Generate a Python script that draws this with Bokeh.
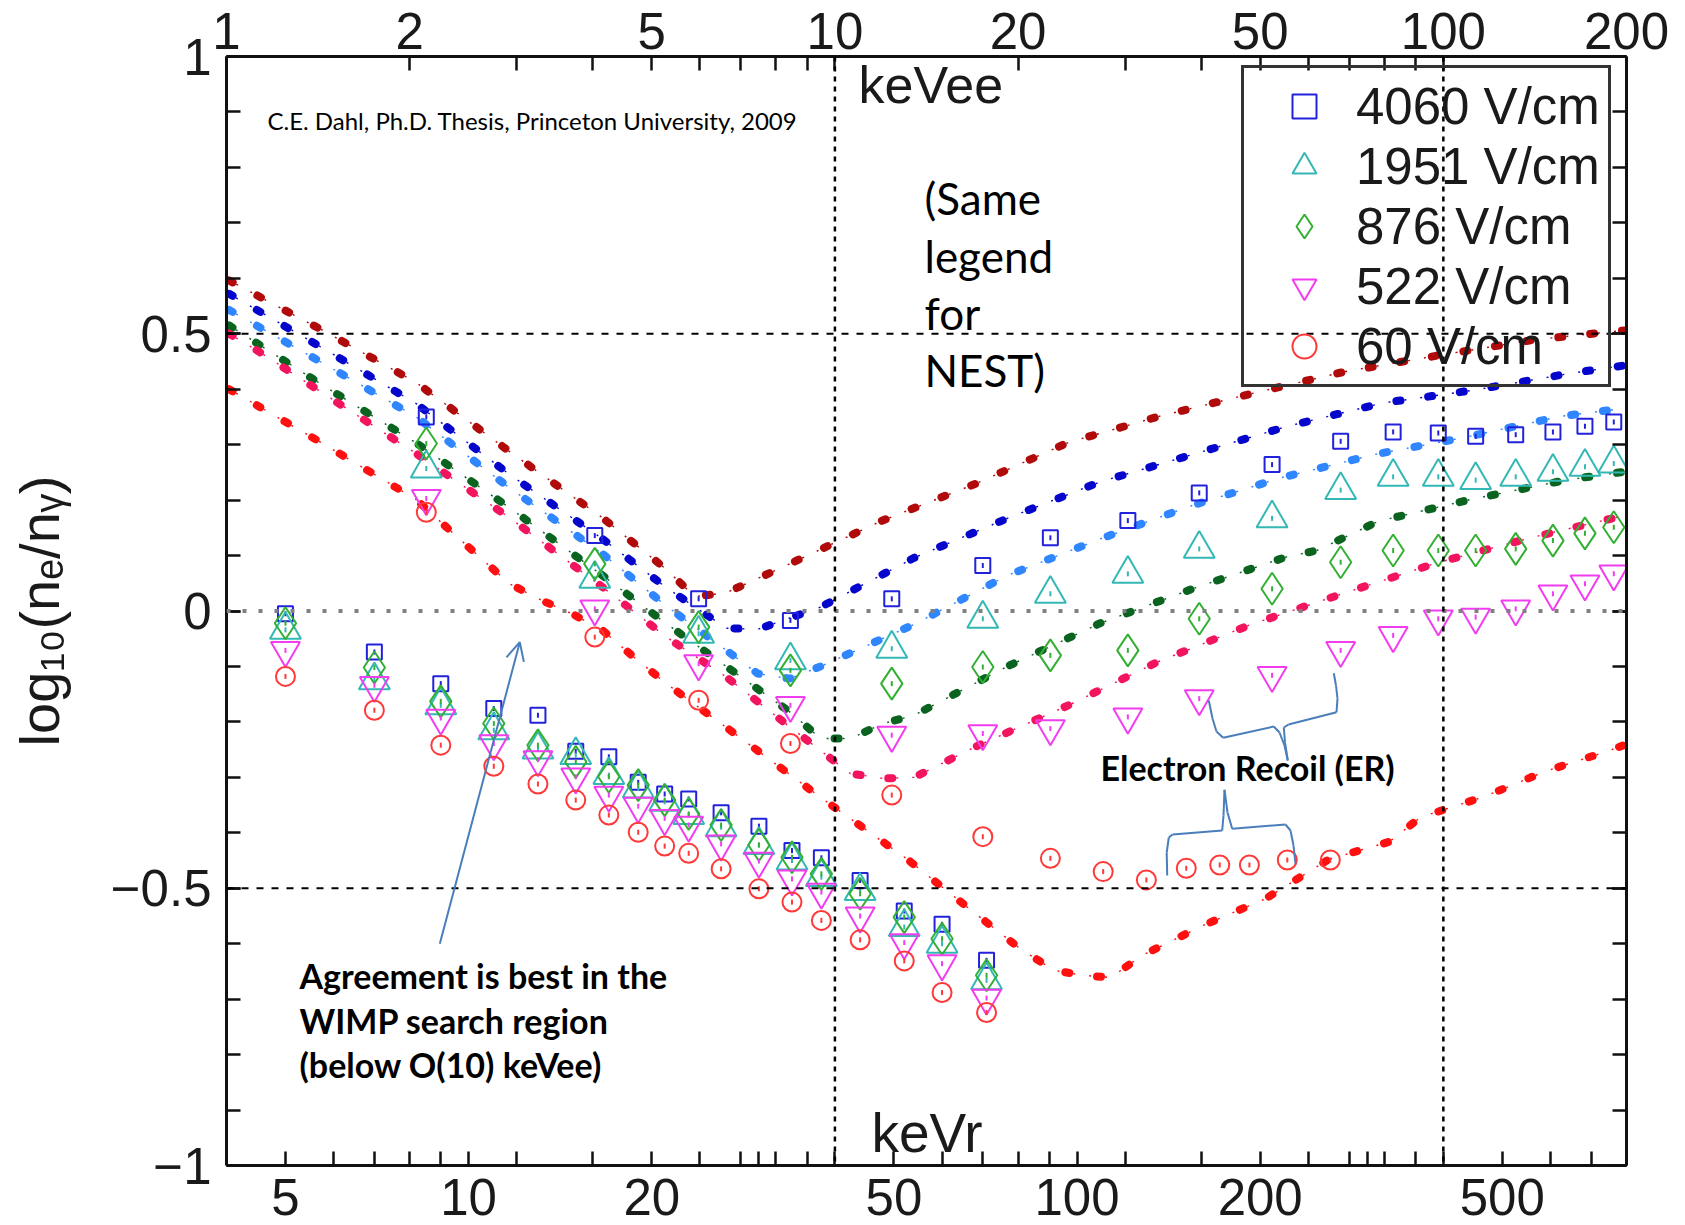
import math
from bokeh.plotting import figure
from bokeh.models import (Range1d, LogScale, LogAxis, LinearAxis, FixedTicker,
                          CustomJSTickFormatter, Span, Label, Arrow, OpenHead)
from bokeh.embed import file_html
from bokeh.resources import INLINE

# ---------------- data ----------------
fields = ["4060 V/cm", "1951 V/cm", "876 V/cm", "522 V/cm", "60 V/cm"]

# Electron-recoil data (x in keVee, top axis)
er_kevee = [2.13, 4.03, 5.97, 8.45, 12.4, 17.5, 22.6, 30.3, 39.7, 52.3, 67.8, 82.7,
            98.1, 113, 131.5, 151.4, 170.9, 190.6]
er_4060 = [0.350, 0.136, 0.022, -0.017, 0.022, 0.082, 0.132, 0.163, 0.213, 0.264, 0.306,
           0.323, 0.321, 0.315, 0.318, 0.323, 0.333, 0.341]
er_1951 = [0.257, 0.058, -0.041, -0.089, -0.068, -0.014, 0.031, 0.067, 0.112, 0.167, 0.218,
           0.242, 0.242, 0.236, 0.242, 0.251, 0.260, 0.266]
er_876 = [0.302, 0.085, -0.029, -0.107, -0.131, -0.101, -0.080, -0.071, -0.014, 0.040,
          0.088, 0.109, 0.109, 0.109, 0.112, 0.127, 0.140, 0.151]
er_522 = [0.203, 0.004, -0.095, -0.170, -0.224, -0.221, -0.212, -0.191, -0.158, -0.116,
          -0.071, -0.044, -0.014, -0.011, 0.004, 0.031, 0.049, 0.067]
er60_kevee = [2.13, 4.03, 5.97, 8.45, 12.4, 17.5, 22.6, 27.6, 32.5, 37.8, 42.9, 48.0, 55.4, 65.2]
er_60 = [0.178, -0.047, -0.161, -0.239, -0.332, -0.407, -0.446, -0.470, -0.485, -0.464,
         -0.458, -0.458, -0.449, -0.449]

# Nuclear-recoil data (x in keVr, bottom axis)
nr_kevr = [5, 7, 9, 11, 13, 15, 17, 19, 21, 23, 26, 30, 34, 38, 44, 52, 60, 71]
nr_4060 = [-0.005, -0.074, -0.131, -0.176, -0.188, -0.253, -0.263, -0.309, -0.330, -0.339,
           -0.364, -0.388, -0.432, -0.445, -0.486, -0.541, -0.565, -0.630]
nr_1951 = [-0.034, -0.125, -0.170, -0.215, -0.250, -0.260, -0.296, -0.320, -0.344, -0.368,
           -0.390, -0.422, -0.450, -0.480, -0.505, -0.570, -0.600, -0.666]
nr_876 = [-0.022, -0.102, -0.163, -0.203, -0.242, -0.272, -0.299, -0.314, -0.341, -0.366,
          -0.386, -0.422, -0.444, -0.474, -0.510, -0.552, -0.591, -0.657]
nr_522 = [-0.071, -0.134, -0.193, -0.239, -0.268, -0.299, -0.332, -0.352, -0.374, -0.386,
          -0.420, -0.451, -0.483, -0.507, -0.550, -0.598, -0.636, -0.698]
nr_60 = [-0.118, -0.179, -0.242, -0.280, -0.312, -0.341, -0.368, -0.399, -0.424, -0.437,
         -0.465, -0.501, -0.525, -0.558, -0.593, -0.631, -0.688, -0.724]

# NEST curves (x in keVee)
nest_darkred_x = [1.01, 1.44, 2.05, 2.94, 4.15, 5.27, 5.88, 6.63, 8.43, 11.9, 17.0, 24.2,
                  34.1, 48.8, 69.1, 98.3, 140.6, 198]
nest_darkred_y = [0.596, 0.506, 0.412, 0.285, 0.168, 0.076, 0.026, 0.033, 0.085, 0.162,
                  0.229, 0.304, 0.351, 0.393, 0.432, 0.461, 0.489, 0.506]
nest_blue_x = [1.01, 1.44, 2.05, 2.92, 4.15, 5.27, 6.63, 7.47, 9.47, 13.5, 19.2, 27.3, 39.2,
               55.4, 79.4, 111.8, 160.5, 199]
nest_blue_y = [0.572, 0.474, 0.374, 0.246, 0.130, 0.043, -0.031, -0.033, 0.007, 0.096, 0.167,
               0.233, 0.284, 0.333, 0.375, 0.398, 0.428, 0.443]
nest_lblue_x = [1.01, 1.44, 2.05, 2.92, 4.15, 5.27, 6.63, 7.47, 8.43, 9.47, 13.5, 19.2, 27.3,
                38.1, 54.0, 76.9, 109.5, 155.8, 196.8]
nest_lblue_y = [0.543, 0.447, 0.350, 0.222, 0.103, 0.010, -0.071, -0.113, -0.122, -0.100,
                -0.024, 0.064, 0.130, 0.188, 0.240, 0.282, 0.314, 0.351, 0.365]
nest_green_x = [1.01, 1.44, 2.05, 2.92, 4.15, 5.27, 6.63, 8.43, 9.47, 10.6, 12.0, 13.5, 19.2,
                27.3, 38.7, 55.0, 61.9, 78.3, 110.8, 158.8, 198]
nest_green_y = [0.515, 0.407, 0.303, 0.186, 0.064, -0.022, -0.100, -0.182, -0.230, -0.230,
                -0.203, -0.188, -0.100, -0.022, 0.040, 0.097, 0.109, 0.162, 0.201, 0.236, 0.251]
nest_pink_x = [1.01, 1.13, 1.44, 2.05, 2.92, 4.15, 5.27, 6.63, 8.43, 10.6, 12.0, 13.5, 17.0,
               24.2, 33.9, 48.1, 68.2, 97.7, 139.1, 198]
nest_pink_y = [0.500, 0.468, 0.393, 0.284, 0.168, 0.043, -0.046, -0.119, -0.209, -0.293,
               -0.302, -0.300, -0.245, -0.170, -0.092, -0.025, 0.031, 0.087, 0.132, 0.172]
nest_red_x = [1.01, 1.44, 2.05, 2.30, 2.59, 2.92, 3.30, 3.70, 4.15, 4.67, 5.27, 6.63, 9.47,
              13.2, 16.5, 20.1, 22.9, 25.6, 28.4, 32.0, 40.3, 51.0, 64.8, 81.6, 91.7, 117.3,
              147.2, 186, 199]
nest_red_y = [0.400, 0.302, 0.201, 0.151, 0.100, 0.049, 0.019, -0.005, -0.035, -0.083, -0.130,
              -0.210, -0.336, -0.449, -0.534, -0.608, -0.648, -0.657, -0.661, -0.621, -0.567,
              -0.519, -0.448, -0.416, -0.372, -0.334, -0.289, -0.253, -0.241]

# axis ticks
kevr_ticks = [5, 10, 20, 50, 100, 200, 500]
kevr_minor = [6, 7, 8, 9, 12, 16, 24, 28, 30, 32, 36, 40, 60, 70, 80, 90, 120, 160, 240, 280,
              300, 320, 360, 400, 600, 700, 800]
kevee_ticks = [1, 2, 5, 10, 20, 50, 100, 200]
kevee_minor = [3, 4, 6, 7, 8, 9, 30, 40, 60, 70, 80, 90]
y_ticks = [-1, -0.5, 0, 0.5, 1]
y_minor = [round(-1 + 0.1 * i, 1) for i in range(21)]
KEVR_PER_KEVEE = 4

# ---------------- layout ----------------
W, H = 1685, 1225
FL, FR, FT, FB = 226, 1626, 56, 1165

p = figure(width=W, height=H, x_axis_type="log", x_range=Range1d(4, 800),
           y_range=Range1d(-1, 1), output_backend="svg", toolbar_location=None,
           min_border_left=FL, min_border_right=W - FR, min_border_top=FT,
           min_border_bottom=H - FB)
p.extra_x_ranges = {"kevee": Range1d(1, 200)}
p.extra_x_scales = {"kevee": LogScale()}
p.outline_line_color = None
p.grid.visible = False
p.background_fill_color = "white"
p.border_fill_color = "white"

TICKFONT = "Liberation Sans"
TICKSIZE = "51px"


def style_axis(ax, labels=True):
    ax.axis_line_width = 3
    ax.axis_line_color = "#111111"
    ax.major_tick_in = 14
    ax.major_tick_out = 0
    ax.minor_tick_in = 14
    ax.minor_tick_out = 0
    ax.major_tick_line_width = 2.5
    ax.minor_tick_line_width = 2.5
    ax.major_tick_line_color = "#111111"
    ax.minor_tick_line_color = "#111111"
    ax.major_label_text_font = TICKFONT
    ax.major_label_text_font_size = TICKSIZE if labels else "1px"
    ax.major_label_text_color = "#1a1a1a" if labels else None


num_fmt = CustomJSTickFormatter(code="return String(tick);")
y_fmt = CustomJSTickFormatter(code="return tick < 0 ? '\u2212' + String(-tick) : String(tick);")

xb = p.xaxis[0]
xb.ticker = FixedTicker(ticks=kevr_ticks, minor_ticks=kevr_minor)
xb.formatter = num_fmt
style_axis(xb)
xb.major_label_standoff = 13

yl = p.yaxis[0]
yl.ticker = FixedTicker(ticks=y_ticks, minor_ticks=y_minor)
yl.formatter = y_fmt
style_axis(yl)
yl.major_label_standoff = 15
yl.axis_label = "log\u2081\u2080(n\u2091/n\u1d67)"
yl.axis_label_text_font = TICKFONT
yl.axis_label_text_font_size = "56px"
yl.axis_label_text_font_style = "normal"
yl.axis_label_text_color = "#1a1a1a"
yl.axis_label_standoff = 37

xt = LogAxis(x_range_name="kevee", ticker=FixedTicker(ticks=kevee_ticks, minor_ticks=kevee_minor),
             formatter=num_fmt)
style_axis(xt)
xt.major_label_standoff = 8
p.add_layout(xt, "above")

yr = LinearAxis(ticker=FixedTicker(ticks=y_ticks, minor_ticks=y_minor),
                formatter=CustomJSTickFormatter(code="return '';"))
style_axis(yr, labels=False)
yr.major_label_standoff = 0
p.add_layout(yr, "right")

# reference lines
p.add_layout(Span(location=0.5, dimension="width", line_color="black", line_width=2, line_dash="7 8"))
p.add_layout(Span(location=-0.5, dimension="width", line_color="black", line_width=2, line_dash="7 8"))
p.add_layout(Span(location=0, dimension="width", line_color="#808080", line_width=4, line_dash="4 12"))
for kv in (10, 100):
    p.add_layout(Span(location=kv * KEVR_PER_KEVEE, dimension="height", line_color="black",
                      line_width=2.5, line_dash="5 5"))

# NEST curves
nest = [
    (nest_darkred_x, nest_darkred_y, "#b00a0a"),
    (nest_blue_x, nest_blue_y, "#0505cc"),
    (nest_lblue_x, nest_lblue_y, "#2f86ff"),
    (nest_green_x, nest_green_y, "#0a6420"),
    (nest_pink_x, nest_pink_y, "#f2145c"),
    (nest_red_x, nest_red_y, "#ff1010"),
]
for xs, ys, c in nest:
    p.line(xs, ys, x_range_name="kevee", line_color=c, line_width=1.4, line_dash="2 14",
           line_dash_offset=-8)
    p.line(xs, ys, x_range_name="kevee", line_color=c, line_width=8, line_dash="4 28",
           line_cap="round")

# data markers
markers = [
    ("square", 15, "#2222dd"),
    ("triangle", 31, "#33b8b5"),
    ("diamond", 32, "#33b033"),
    ("inverted_triangle", 29, "#f23cf0"),
    ("circle", 19, "#ff3838"),
]
er_x = [er_kevee, er_kevee, er_kevee, er_kevee, er60_kevee]
er_y = [er_4060, er_1951, er_876, er_522, er_60]
nr_y = [nr_4060, nr_1951, nr_876, nr_522, nr_60]

for i, (mk, sz, col) in enumerate(markers):
    p.scatter(nr_kevr, nr_y[i], marker=mk, size=sz, fill_color=None,
              line_color=col, line_width=2)
    p.scatter(nr_kevr, nr_y[i], marker="dash", size=5, angle=math.pi / 2,
              line_color=col, line_width=2)
for i, (mk, sz, col) in enumerate(markers):
    p.scatter(er_x[i], er_y[i], x_range_name="kevee", marker=mk, size=sz,
              fill_color=None, line_color=col, line_width=2, legend_label=fields[i])
    p.scatter(er_x[i], er_y[i], x_range_name="kevee", marker="dash", size=5,
              angle=math.pi / 2, line_color=col, line_width=2)

leg = p.legend[0]
leg.location = (1015, 778)
leg.padding = 8
leg.spacing = 0
leg.margin = 0
leg.glyph_width = 104
leg.glyph_height = 60
leg.label_height = 60
leg.label_standoff = 0
leg.label_text_font = TICKFONT
leg.label_text_font_size = "51px"
leg.label_text_color = "#1a1a1a"
leg.border_line_color = "#333333"
leg.border_line_alpha = 1.0
leg.border_line_width = 3
leg.background_fill_alpha = 0


# ---------------- annotations (page pixel positions -> frame screen units) ----------------
def sx(X):
    return X - FL


def sy(Y):
    return FB - Y


def label(text, X, Y, size, font="Lato", bold=False, color="black"):
    p.add_layout(Label(x=sx(X), y=sy(Y), x_units="screen", y_units="screen", text=text,
                       text_font=font, text_font_size=f"{size}px",
                       text_font_style="bold" if bold else "normal",
                       text_color=color, text_baseline="alphabetic", text_align="left"))


label("keVee", 858, 84, 52, font=TICKFONT, color="#1a1a1a")
label("keVr", 871, 1132, 55, font=TICKFONT, color="#1a1a1a")
label("C.E. Dahl, Ph.D. Thesis, Princeton University, 2009", 267, 120, 24)
for t, yb in zip(["(Same", "legend", "for", "NEST)"], [197, 255, 312, 369]):
    label(t, 924, yb, 44)
label("Electron Recoil (ER)", 1100, 766.5, 34, bold=True)
for t, yb in zip(["Agreement is best in the", "WIMP search region", "(below O(10) keVee)"],
                 [974.5, 1019.5, 1064]):
    label(t, 299, yb, 34, bold=True)

BLUE = "#4a7ebb"
p.add_layout(Arrow(x_start=sx(439.3), y_start=sy(943.3), x_end=sx(519.3), y_end=sy(641.7),
                   start_units="screen", end_units="screen", line_color=BLUE, line_width=2,
                   end=OpenHead(size=18, line_color=BLUE, line_width=2)))


def polyline(pts):
    for (x0, y0), (x1, y1) in zip(pts[:-1], pts[1:]):
        p.add_layout(Arrow(x_start=sx(x0), y_start=sy(y0), x_end=sx(x1), y_end=sy(y1),
                           start_units="screen", end_units="screen", line_color=BLUE,
                           line_width=2, end=None))


brace_upper = [(1208.3, 700), (1212, 718), (1216, 731), (1222.7, 737.3), (1273.3, 726),
               (1279, 732), (1284, 745), (1287.3, 760), (1284.5, 742), (1283.3, 727),
               (1288, 724), (1336, 711.7), (1337, 698), (1335.5, 685), (1333.3, 672.7)]
brace_lower = [(1166.7, 875), (1166.2, 852), (1168.3, 837), (1172, 834), (1221.7, 830),
               (1223, 815), (1224, 789.3), (1227, 812), (1231.7, 828.3), (1285, 824),
               (1290, 830), (1293, 845), (1295, 863.3)]
polyline(brace_upper)
polyline(brace_lower)

open("out.html", "w").write(file_html(p, INLINE))
